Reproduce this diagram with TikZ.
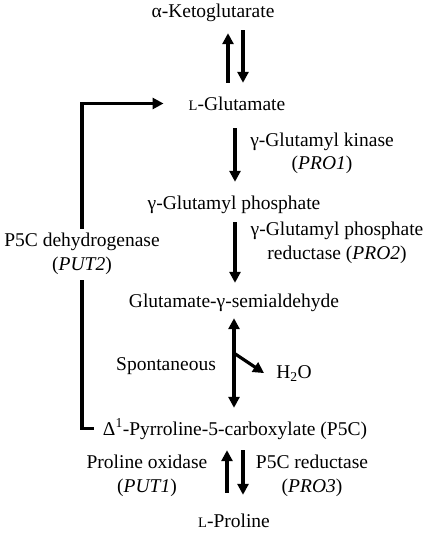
\documentclass[tikz,border=0pt]{standalone}
\usepackage{fontspec}
\setmainfont{Liberation Serif}
\usetikzlibrary{arrows.meta}
\newcommand{\smL}{{\fontsize{14.5}{14.5}\selectfont L}}
\begin{document}
\fontsize{19.5}{23.5}\selectfont
\begin{tikzpicture}[x=1pt,y=-1pt,
  comp/.style={anchor=base,inner sep=0pt,text height=14pt,text depth=5pt},
  lab/.style={anchor=base,inner sep=0pt,align=center},
  line/.style={line width=3.2pt},
  arr/.style={line,-{Triangle[length=11pt,width=11pt]}},
  darr/.style={line,{Triangle[length=11pt,width=11pt]}-{Triangle[length=11pt,width=11pt]}}]
\useasboundingbox (0,0) rectangle (425,534);

\node[comp] (kg) at (213,18) {α-Ketoglutarate};
\node[comp] (glu) at (237,111) {\smL-Glutamate};
\node[comp] (gp) at (234,210) {γ-Glutamyl phosphate};
\node[comp] (gsa) at (234,307) {Glutamate-γ-semialdehyde};
\node[comp] (p5c) at (235,435) {Δ\textsuperscript{1}-Pyrroline-5-carboxylate (P5C)};
\node[comp] (pro) at (234,527) {\smL-Proline};

% base of a two-line label = baseline of its last line
\node[lab] (kin) at (322,170) {γ-Glutamyl kinase\\(\textit{PRO1})};
\node[lab] (red) at (337,259) {γ-Glutamyl phosphate\\reductase (\textit{PRO2})};
\node[lab] (dh) at (82,270) {P5C dehydrogenase\\(\textit{PUT2})};
\node[lab] (spont) at (166,370) {Spontaneous};
\node[anchor=base,inner sep=0pt] (h2o) at (294,378) {H\textsubscript{2}O};
\node[lab] (pox) at (147,492) {Proline oxidase\\(\textit{PUT1})};
\node[lab] (p5cr) at (312,492) {P5C reductase\\(\textit{PRO3})};

\draw[arr] ([xshift=-9pt,yshift=14pt]glu.north) -- ([xshift=15pt,yshift=-10pt]kg.south);
\draw[arr] ([xshift=30pt,yshift=-7pt]kg.south) -- ([xshift=6pt,yshift=14pt]glu.north);
\draw[arr] ([xshift=-2pt,yshift=-12pt]glu.south) -- ([xshift=1pt,yshift=14pt]gp.north);
\draw[arr] ([xshift=1pt,yshift=-7pt]gp.south) -- ([xshift=1pt,yshift=10pt]gsa.north);
\draw[darr] ([yshift=-6pt]gsa.south) -- coordinate[pos=0.39] (br) ([xshift=-1pt,yshift=13pt]p5c.north);
\draw[arr] (br) -- ([xshift=-12pt]h2o.west);
\draw[arr] ([xshift=-7pt,yshift=20pt]pro.north) -- ([xshift=-8pt,yshift=-10pt]p5c.south);
\draw[arr] ([xshift=8pt,yshift=-10pt]p5c.south) -- ([xshift=9pt,yshift=18pt]pro.north);

\draw[line] ([xshift=-9pt,yshift=2pt]p5c.west) -| ([yshift=-6pt]dh.south);
\draw[arr] ([yshift=4pt]dh.north) |- ([xshift=-25pt,yshift=3pt]glu.west);
\end{tikzpicture}
\end{document}
